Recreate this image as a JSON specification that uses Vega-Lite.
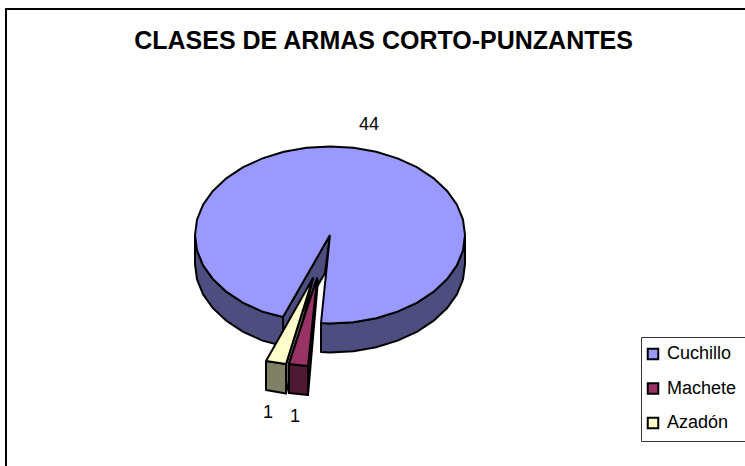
{
"$schema":"https://vega.github.io/schema/vega-lite/v6.json",
"width":745,"height":466,"padding":0,"autosize":{"type":"none"},"background":"white",
"config":{"view":{"stroke":null},"font":"Liberation Sans"},
"title":{"text":"CLASES DE ARMAS CORTO-PUNZANTES","font":"Liberation Sans","fontSize":25,"fontWeight":"bold","color":"black","anchor":"middle","dx":11,"offset":-74,"baseline":"alphabetic"},
"datasets":{
"marco":[{"n":0,"x":-324,"y":-231},{"n":1,"x":-324,"y":226},{"n":2,"x":415,"y":226}],
"lados":[
{"p":"Cuchillo izq","n":0,"x":-135,"y":0},{"p":"Cuchillo izq","n":1,"x":-133,"y":-15.4},{"p":"Cuchillo izq","n":2,"x":-126.9,"y":-30.3},{"p":"Cuchillo izq","n":3,"x":-116.9,"y":-44.3},{"p":"Cuchillo izq","n":4,"x":-103.4,"y":-56.9},{"p":"Cuchillo izq","n":5,"x":-86.8,"y":-67.8},{"p":"Cuchillo izq","n":6,"x":-67.5,"y":-76.6},{"p":"Cuchillo izq","n":7,"x":-47,"y":-82},{"p":"Cuchillo izq","n":8,"x":-47,"y":-111},{"p":"Cuchillo izq","n":9,"x":-67.5,"y":-105.6},{"p":"Cuchillo izq","n":10,"x":-86.8,"y":-96.8},{"p":"Cuchillo izq","n":11,"x":-103.4,"y":-85.9},{"p":"Cuchillo izq","n":12,"x":-116.9,"y":-73.3},{"p":"Cuchillo izq","n":13,"x":-126.9,"y":-59.3},{"p":"Cuchillo izq","n":14,"x":-133,"y":-44.4},{"p":"Cuchillo izq","n":15,"x":-135,"y":-29},{"p":"Cuchillo izq","n":16,"x":-135,"y":0},
{"p":"Cuchillo der","n":0,"x":-9,"y":-88},{"p":"Cuchillo der","n":1,"x":0,"y":-88.5},{"p":"Cuchillo der","n":2,"x":23.4,"y":-87.2},{"p":"Cuchillo der","n":3,"x":46.2,"y":-83.2},{"p":"Cuchillo der","n":4,"x":67.5,"y":-76.6},{"p":"Cuchillo der","n":5,"x":86.8,"y":-67.8},{"p":"Cuchillo der","n":6,"x":103.4,"y":-56.9},{"p":"Cuchillo der","n":7,"x":116.9,"y":-44.3},{"p":"Cuchillo der","n":8,"x":126.9,"y":-30.3},{"p":"Cuchillo der","n":9,"x":133,"y":-15.4},{"p":"Cuchillo der","n":10,"x":135,"y":0},{"p":"Cuchillo der","n":11,"x":135,"y":-29},{"p":"Cuchillo der","n":12,"x":133,"y":-44.4},{"p":"Cuchillo der","n":13,"x":126.9,"y":-59.3},{"p":"Cuchillo der","n":14,"x":116.9,"y":-73.3},{"p":"Cuchillo der","n":15,"x":103.4,"y":-85.9},{"p":"Cuchillo der","n":16,"x":86.8,"y":-96.8},{"p":"Cuchillo der","n":17,"x":67.5,"y":-105.6},{"p":"Cuchillo der","n":18,"x":46.2,"y":-112.2},{"p":"Cuchillo der","n":19,"x":23.4,"y":-116.2},{"p":"Cuchillo der","n":20,"x":0,"y":-117.5},{"p":"Cuchillo der","n":21,"x":-9,"y":-117},{"p":"Cuchillo der","n":22,"x":-9,"y":-88},
{"p":"Cuchillo corte","n":0,"x":0,"y":0},{"p":"Cuchillo corte","n":1,"x":-47,"y":-82},{"p":"Cuchillo corte","n":2,"x":-47,"y":-111},{"p":"Cuchillo corte","n":3,"x":-5,"y":-38},{"p":"Cuchillo corte","n":4,"x":0,"y":0},
{"p":"Azadón corte","n":0,"x":-44,"y":-129},{"p":"Azadón corte","n":1,"x":-44,"y":-158.5},{"p":"Azadón corte","n":2,"x":-17,"y":-43},{"p":"Azadón corte","n":3,"x":-44,"y":-129},
{"p":"Azadón lado","n":0,"x":-64,"y":-126},{"p":"Azadón lado","n":1,"x":-44,"y":-129},{"p":"Azadón lado","n":2,"x":-44,"y":-158.5},{"p":"Azadón lado","n":3,"x":-64,"y":-155},{"p":"Azadón lado","n":4,"x":-64,"y":-126},
{"p":"Machete corte","n":0,"x":-41,"y":-129},{"p":"Machete corte","n":1,"x":-41,"y":-158},{"p":"Machete corte","n":2,"x":-13,"y":-43},{"p":"Machete corte","n":3,"x":-41,"y":-129},
{"p":"Machete borde","n":0,"x":-22,"y":-131},{"p":"Machete borde","n":1,"x":-22,"y":-160},{"p":"Machete borde","n":2,"x":-12,"y":-45},{"p":"Machete borde","n":3,"x":-22,"y":-131},
{"p":"Machete lado","n":0,"x":-41,"y":-129},{"p":"Machete lado","n":1,"x":-22,"y":-131},{"p":"Machete lado","n":2,"x":-22,"y":-160},{"p":"Machete lado","n":3,"x":-41,"y":-158},{"p":"Machete lado","n":4,"x":-41,"y":-129}
],
"caras":[
{"arma":"Cuchillo","n":0,"x":0,"y":0},{"arma":"Cuchillo","n":1,"x":-9,"y":-88},{"arma":"Cuchillo","n":2,"x":0,"y":-88.5},{"arma":"Cuchillo","n":3,"x":23.4,"y":-87.2},{"arma":"Cuchillo","n":4,"x":46.2,"y":-83.2},{"arma":"Cuchillo","n":5,"x":67.5,"y":-76.6},{"arma":"Cuchillo","n":6,"x":86.8,"y":-67.8},{"arma":"Cuchillo","n":7,"x":103.4,"y":-56.9},{"arma":"Cuchillo","n":8,"x":116.9,"y":-44.3},{"arma":"Cuchillo","n":9,"x":126.9,"y":-30.3},{"arma":"Cuchillo","n":10,"x":133,"y":-15.4},{"arma":"Cuchillo","n":11,"x":135,"y":0},{"arma":"Cuchillo","n":12,"x":133,"y":15.4},{"arma":"Cuchillo","n":13,"x":126.9,"y":30.3},{"arma":"Cuchillo","n":14,"x":116.9,"y":44.3},{"arma":"Cuchillo","n":15,"x":103.4,"y":56.9},{"arma":"Cuchillo","n":16,"x":86.8,"y":67.8},{"arma":"Cuchillo","n":17,"x":67.5,"y":76.6},{"arma":"Cuchillo","n":18,"x":46.2,"y":83.2},{"arma":"Cuchillo","n":19,"x":23.4,"y":87.2},{"arma":"Cuchillo","n":20,"x":0,"y":88.5},{"arma":"Cuchillo","n":21,"x":-23.4,"y":87.2},{"arma":"Cuchillo","n":22,"x":-46.2,"y":83.2},{"arma":"Cuchillo","n":23,"x":-67.5,"y":76.6},{"arma":"Cuchillo","n":24,"x":-86.8,"y":67.8},{"arma":"Cuchillo","n":25,"x":-103.4,"y":56.9},{"arma":"Cuchillo","n":26,"x":-116.9,"y":44.3},{"arma":"Cuchillo","n":27,"x":-126.9,"y":30.3},{"arma":"Cuchillo","n":28,"x":-133,"y":15.4},{"arma":"Cuchillo","n":29,"x":-135,"y":0},{"arma":"Cuchillo","n":30,"x":-133,"y":-15.4},{"arma":"Cuchillo","n":31,"x":-126.9,"y":-30.3},{"arma":"Cuchillo","n":32,"x":-116.9,"y":-44.3},{"arma":"Cuchillo","n":33,"x":-103.4,"y":-56.9},{"arma":"Cuchillo","n":34,"x":-86.8,"y":-67.8},{"arma":"Cuchillo","n":35,"x":-67.5,"y":-76.6},{"arma":"Cuchillo","n":36,"x":-47,"y":-82},{"arma":"Cuchillo","n":37,"x":0,"y":0},
{"arma":"Machete","n":0,"x":-13,"y":-43},{"arma":"Machete","n":1,"x":-41,"y":-129},{"arma":"Machete","n":2,"x":-22,"y":-131},{"arma":"Machete","n":3,"x":-13,"y":-43},
{"arma":"Azadón","n":0,"x":-17,"y":-43},{"arma":"Azadón","n":1,"x":-64,"y":-126},{"arma":"Azadón","n":2,"x":-44,"y":-129},{"arma":"Azadón","n":3,"x":-17,"y":-43}
],
"valores":[
{"arma":"Cuchillo","valor":44,"x":39,"y":110},
{"arma":"Machete","valor":1,"x":-35,"y":-182},
{"arma":"Azadón","valor":1,"x":-62,"y":-178}
]
},
"encoding":{
"x":{"field":"x","type":"quantitative","axis":null,"scale":{"domain":[-330,415]}},
"y":{"field":"y","type":"quantitative","axis":null,"scale":{"domain":[-231,235]}}
},
"layer":[
{"data":{"name":"marco"},"mark":{"type":"line","stroke":"black","strokeWidth":2},"encoding":{"order":{"field":"n","type":"quantitative"}}},
{"data":{"name":"lados"},"mark":{"type":"line","filled":true,"stroke":"black","strokeWidth":2,"strokeJoin":"round"},
"encoding":{"order":{"field":"n","type":"quantitative"},
"color":{"field":"p","type":"nominal","legend":null,"scale":{"domain":["Cuchillo izq","Cuchillo der","Cuchillo corte","Azadón corte","Azadón lado","Machete corte","Machete borde","Machete lado"],"range":["#4D4D80","#4D4D80","#4D4D80","#666650","#808066","#5C1F3D","#4D1933","#4D1933"]}}}},
{"data":{"name":"caras"},"mark":{"type":"line","filled":true,"stroke":"black","strokeWidth":2,"strokeJoin":"round"},
"encoding":{"order":{"field":"n","type":"quantitative"},
"color":{"field":"arma","type":"nominal","sort":null,"scale":{"domain":["Cuchillo","Machete","Azadón"],"range":["#9999FF","#993366","#FFFFCC"]},
"legend":{"title":null,"orient":"none","legendX":641,"legendY":337,"symbolType":"square","symbolSize":110,"symbolStrokeColor":"black","symbolStrokeWidth":2,"symbolOffset":-5,"labelFont":"Liberation Sans","labelFontSize":18,"labelColor":"black","labelOffset":5,"rowPadding":14.5,"padding":8,"fillColor":"white","strokeColor":"#333333"}}}},
{"data":{"name":"valores"},"mark":{"type":"text","font":"Liberation Sans","fontSize":18,"color":"black"},"encoding":{"text":{"field":"valor","type":"quantitative"}}}
],
"resolve":{"scale":{"color":"independent"}}
}
